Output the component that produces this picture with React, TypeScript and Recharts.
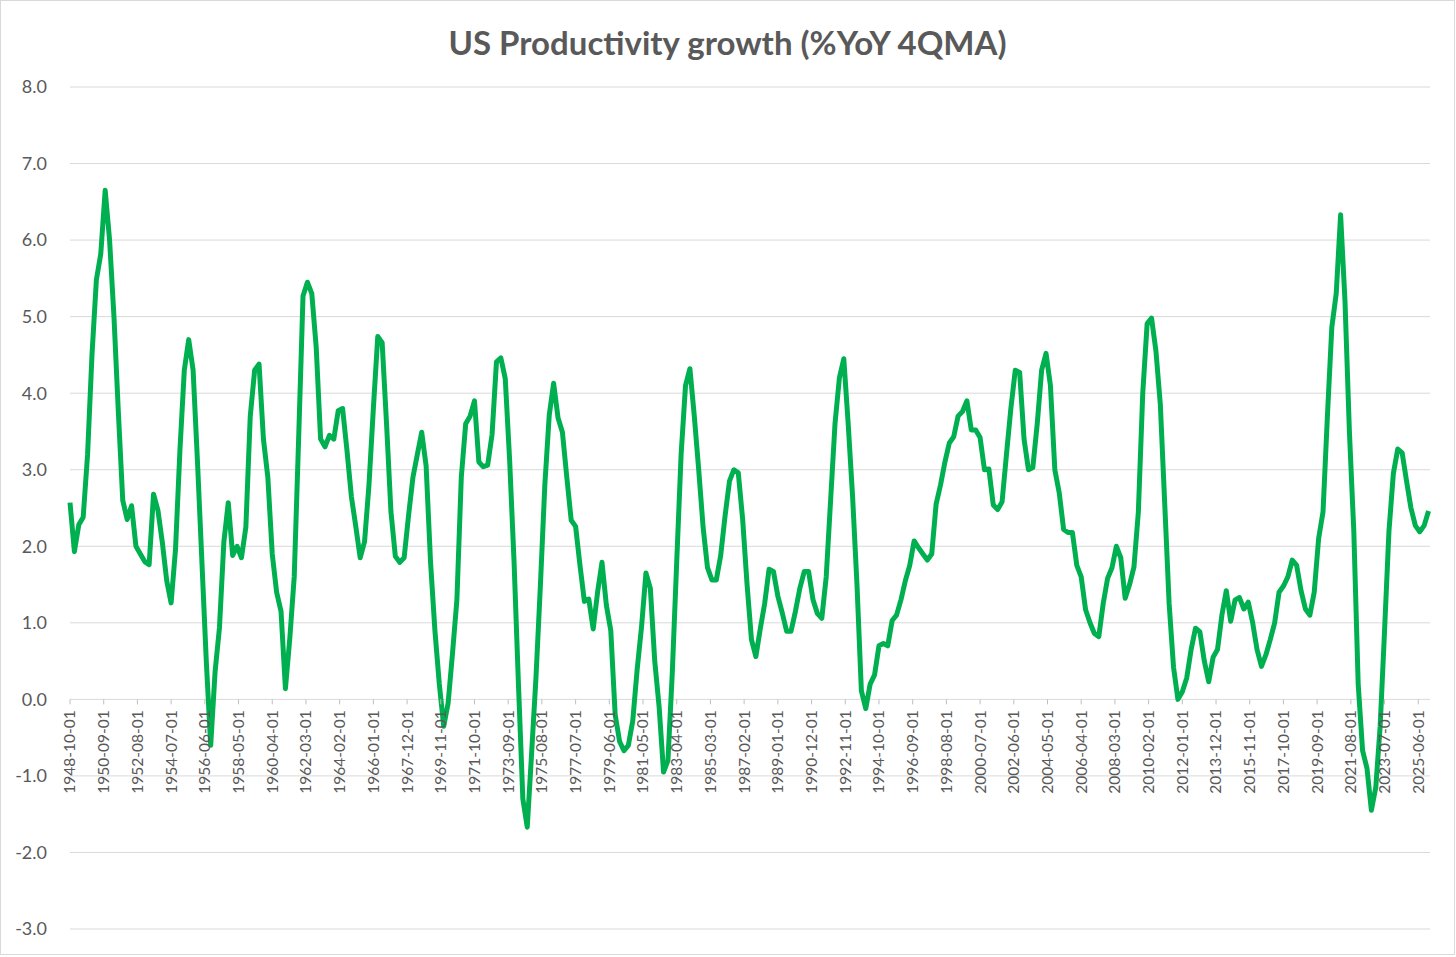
import { CartesianGrid, Line, LineChart, XAxis, YAxis } from "recharts";

// quarterly, first point 1948-10-01, %YoY 4QMA
const productivity = [
  2.57, 1.93, 2.28, 2.38, 3.2, 4.5, 5.48, 5.82, 6.65, 6.0,
  5.0, 3.75, 2.6, 2.35, 2.53, 2.0, 1.9, 1.8, 1.76, 2.68,
  2.47, 2.05, 1.55, 1.26, 1.96, 3.25, 4.3, 4.7, 4.3, 3.1,
  1.8, 0.5, -0.6, 0.36, 0.94, 2.06, 2.57, 1.88, 2.0, 1.85,
  2.25, 3.7, 4.3, 4.38, 3.4, 2.9, 1.9, 1.4, 1.15, 0.14,
  0.8, 1.6, 3.4, 5.27, 5.45, 5.3, 4.6, 3.4, 3.3, 3.45,
  3.4, 3.77, 3.8, 3.25, 2.65, 2.26, 1.85, 2.06, 2.8, 3.8,
  4.74, 4.66, 3.6, 2.45, 1.87, 1.79, 1.85, 2.4, 2.9, 3.2,
  3.49, 3.05, 1.8, 0.9, 0.2, -0.35, -0.05, 0.6, 1.3, 2.9,
  3.6, 3.7, 3.9, 3.1, 3.04, 3.06, 3.46, 4.41, 4.46, 4.19,
  3.12, 1.8, 0.2, -1.3, -1.67, -0.7, 0.3, 1.5, 2.8, 3.71,
  4.13, 3.68, 3.49, 2.9, 2.34, 2.26, 1.75, 1.28, 1.31, 0.92,
  1.4, 1.79, 1.23, 0.9, -0.2, -0.55, -0.67, -0.6, -0.28, 0.39,
  0.95, 1.65, 1.45, 0.5, -0.1, -0.95, -0.8, 0.36, 1.8, 3.2,
  4.1, 4.32, 3.7, 3.0, 2.25, 1.72, 1.56, 1.56, 1.88, 2.4,
  2.85, 3.0, 2.96, 2.35, 1.5, 0.78, 0.56, 0.92, 1.25, 1.7,
  1.67, 1.35, 1.13, 0.89, 0.89, 1.15, 1.45, 1.67, 1.67, 1.3,
  1.12, 1.06, 1.6, 2.6, 3.6, 4.2, 4.45, 3.6, 2.65, 1.5,
  0.11, -0.12, 0.2, 0.32, 0.7, 0.73, 0.7, 1.03, 1.1, 1.3,
  1.55, 1.75, 2.07, 1.98, 1.9, 1.82, 1.9, 2.55, 2.8, 3.1,
  3.35, 3.43, 3.7, 3.76, 3.9, 3.52, 3.52, 3.42, 3.0, 3.01,
  2.54, 2.48, 2.58, 3.2, 3.8, 4.3, 4.27, 3.4, 3.0, 3.03,
  3.6, 4.3, 4.52, 4.1, 3.0, 2.7, 2.22, 2.18, 2.18, 1.75,
  1.6, 1.17, 1.0, 0.86, 0.82, 1.25, 1.58, 1.72, 2.0, 1.85,
  1.32, 1.5, 1.73, 2.45, 4.0, 4.91, 4.98, 4.55, 3.85, 2.55,
  1.25, 0.42, 0.0, 0.1, 0.28, 0.65, 0.93, 0.88, 0.5, 0.23,
  0.55, 0.65, 1.1, 1.42, 1.02, 1.3, 1.33, 1.18, 1.27, 1.0,
  0.65, 0.43, 0.58, 0.78, 1.0, 1.4, 1.48, 1.6, 1.82, 1.75,
  1.42, 1.18, 1.1, 1.4, 2.1, 2.45, 3.7, 4.86, 5.3, 6.33,
  5.2, 3.5, 2.2, 0.2, -0.67, -0.9, -1.45, -1.15, -0.35, 0.9,
  2.2, 2.95, 3.27, 3.22, 2.85, 2.5, 2.27, 2.19, 2.27, 2.46,
];

const xTickLabels = [
  "1948-10-01", "1950-09-01", "1952-08-01", "1954-07-01", "1956-06-01",
  "1958-05-01", "1960-04-01", "1962-03-01", "1964-02-01", "1966-01-01",
  "1967-12-01", "1969-11-01", "1971-10-01", "1973-09-01", "1975-08-01",
  "1977-07-01", "1979-06-01", "1981-05-01", "1983-04-01", "1985-03-01",
  "1987-02-01", "1989-01-01", "1990-12-01", "1992-11-01", "1994-10-01",
  "1996-09-01", "1998-08-01", "2000-07-01", "2002-06-01", "2004-05-01",
  "2006-04-01", "2008-03-01", "2010-02-01", "2012-01-01", "2013-12-01",
  "2015-11-01", "2017-10-01", "2019-09-01", "2021-08-01", "2023-07-01",
  "2025-06-01",
];

const yTicks = [-3, -2, -1, 0, 1, 2, 3, 4, 5, 6, 7, 8];

const CHART_W = 1453;
const CHART_H = 953;
const MARGIN = { top: 86, right: 24, bottom: 0, left: 0 };
const Y_AXIS_W = 69;
const X_AXIS_H = 25;
const Y_MIN = -3;
const Y_MAX = 8;
const PLOT_H = CHART_H - MARGIN.top - MARGIN.bottom - X_AXIS_H;
// the category axis crosses at 0, like the Excel original
const ZERO_Y = MARGIN.top + (PLOT_H * (Y_MAX - 0)) / (Y_MAX - Y_MIN);

const FONT = "Lato, 'Open Sans', sans-serif";
const TEXT = "#595959";

const monthIndex = (d: string) => {
  const [y, m] = d.split("-").map(Number);
  return (y - 1948) * 12 + (m - 10);
};

const xTicks = xTickLabels.map(monthIndex);
const rows = productivity.map((v, i) => ({ m: i * 3, v }));

function DateTick({ x, payload }: any) {
  const label = xTickLabels[xTicks.indexOf(payload.value)];
  return (
    <g>
      <line x1={x} x2={x} y1={ZERO_Y} y2={ZERO_Y + 5} stroke="#bfbfbf" strokeWidth={1} />
      <text
        transform={`translate(${x},${ZERO_Y + 11}) rotate(-90)`}
        textAnchor="end"
        dy="0.35em"
        fill={TEXT}
        fontSize={15.5}
        fontFamily={FONT}
      >
        {label}
      </text>
    </g>
  );
}

export default function App() {
  return (
    <div
      style={{
        position: "absolute",
        left: 0,
        top: 0,
        width: CHART_W + 2,
        height: CHART_H + 2,
        border: "1px solid #d9d9d9",
        boxSizing: "border-box",
        background: "#fff",
      }}
    >
      <div
        style={{
          position: "absolute",
          left: 0,
          top: 22,
          width: "100%",
          textAlign: "center",
          fontFamily: FONT,
          fontWeight: 700,
          fontSize: 33,
          lineHeight: "38px",
          color: TEXT,
        }}
      >
        US Productivity growth (%YoY 4QMA)
      </div>
      <LineChart width={CHART_W} height={CHART_H} data={rows} margin={MARGIN}>
        <CartesianGrid vertical={false} stroke="#d9d9d9" strokeWidth={1} />
        <YAxis
          type="number"
          domain={[Y_MIN, Y_MAX]}
          ticks={yTicks}
          interval={0}
          width={Y_AXIS_W}
          axisLine={false}
          tickLine={false}
          tickMargin={17}
          tickFormatter={(v: number) => v.toFixed(1)}
          tick={{ fill: TEXT, fontSize: 18, fontFamily: FONT }}
        />
        <XAxis
          type="number"
          dataKey="m"
          domain={[0, 928]}
          ticks={xTicks}
          interval={0}
          height={X_AXIS_H}
          axisLine={false}
          tickLine={false}
          tick={<DateTick />}
        />
        <Line
          type="linear"
          dataKey="v"
          stroke="#00b050"
          strokeWidth={5}
          strokeLinejoin="round"
          dot={false}
          activeDot={false}
          isAnimationActive={false}
        />
      </LineChart>
    </div>
  );
}
